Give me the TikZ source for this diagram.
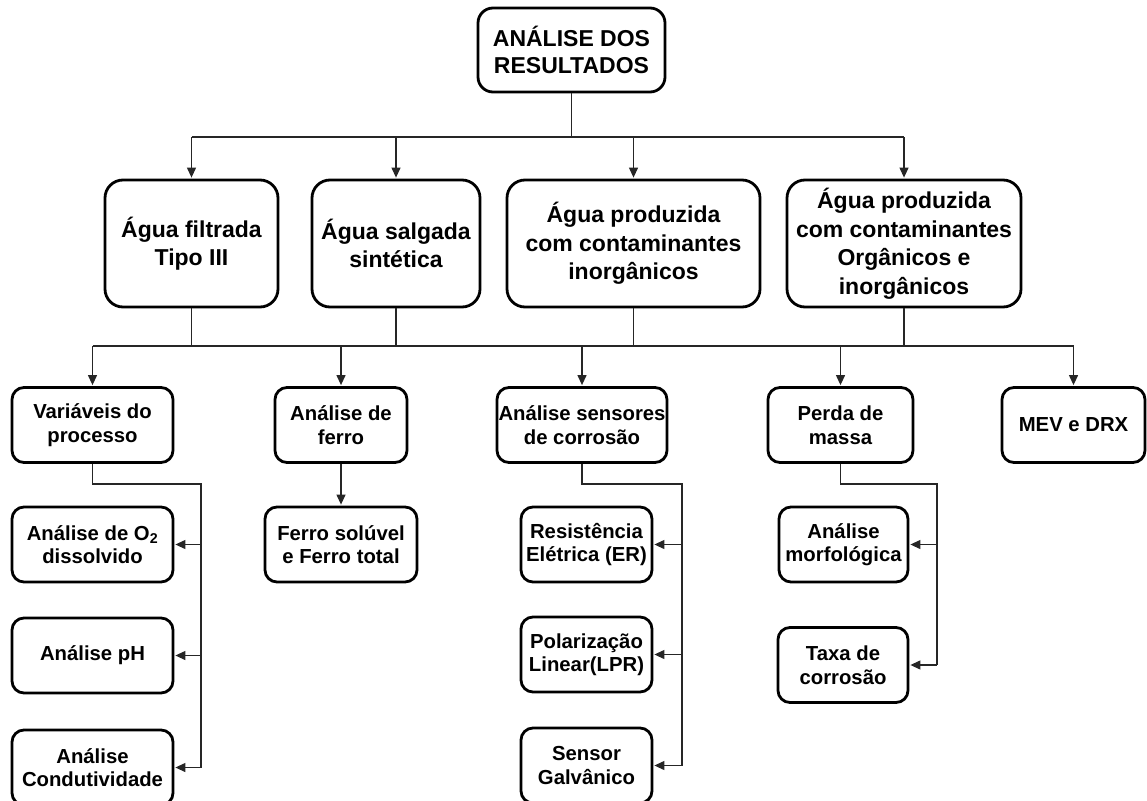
\documentclass[tikz,border=0pt]{standalone}
\usepackage{fontspec}
\setmainfont{Liberation Sans}
\usetikzlibrary{arrows.meta}

\tikzset{
  box/.style={draw=black, line width=2.8pt, fill=white, align=center, inner sep=0pt,
              font=\bfseries},
  topbox/.style={box, rounded corners=15pt, minimum width=187pt, minimum height=84pt,
                 font=\bfseries\fontsize{23}{27}\selectfont},
  bigbox/.style={box, rounded corners=18pt, minimum height=127pt,
                 font=\bfseries\fontsize{23}{28.5}\selectfont},
  smallbox/.style={box, rounded corners=12pt, minimum height=75pt,
                   font=\bfseries\fontsize{20.3}{23.5}\selectfont},
  conn/.style={draw=black!85, line width=1.2pt},
  arr/.style={conn, -{Triangle[length=10pt,width=9pt]}, shorten >=1pt},
}

\begin{document}
\begin{tikzpicture}[x=1pt,y=-1pt]
\useasboundingbox (0,0) rectangle (1147,800);
\clip (0,0) rectangle (1147,800);

% root
\node[topbox] (top) at (571.5,50) {ANÁLISE DOS\\RESULTADOS};

% water types
\node[bigbox, minimum width=173pt] (A) at (191.5,243.5) {Água filtrada\\Tipo III};
\node[bigbox, minimum width=168pt] (B) at (396,243.5) {Água salgada\\sintética};
\node[bigbox, minimum width=253pt] (C) at (633.5,243.5) {Água produzida\\com contaminantes\\inorgânicos};
\node[bigbox, minimum width=234pt] (D) at (904,243.5) {Água produzida\\com contaminantes\\Orgânicos e\\inorgânicos};

% analyses
\node[smallbox, minimum width=161pt] (V) at (92.5,425) {Variáveis do\\processo};
\node[smallbox, minimum width=132pt] (F) at (341,425) {Análise de\\ferro};
\node[smallbox, minimum width=170pt] (S) at (582,425) {Análise sensores\\de corrosão};
\node[smallbox, minimum width=145pt] (P) at (840.5,425) {Perda de\\massa};
\node[smallbox, minimum width=143pt] (M) at (1073.5,425) {MEV e DRX};

% details
\node[smallbox, minimum width=161pt] (O2) at (92.5,544.5) {Análise de O\textsubscript{2}\\dissolvido};
\node[smallbox, minimum width=161pt] (pH) at (92.5,655.5) {Análise pH};
\node[smallbox, minimum width=161pt] (Cd) at (92.5,767.5) {Análise\\Condutividade};
\node[smallbox, minimum width=152pt] (FS) at (341,544.5) {Ferro solúvel\\e Ferro total};
\node[smallbox, minimum width=131pt] (ER) at (586.5,544.5) {Resistência\\Elétrica (ER)};
\node[smallbox, minimum width=131pt] (LPR) at (586.5,654.5) {Polarização\\Linear(LPR)};
\node[smallbox, minimum width=131pt] (G) at (586.5,765.5) {Sensor\\Galvânico};
\node[smallbox, minimum width=129pt] (Mo) at (843.5,544.5) {Análise\\morfológica};
\node[smallbox, minimum width=130pt] (T) at (843,665) {Taxa de\\corrosão};

% bus lines and elbows
\coordinate (bus1) at (0,137);
\coordinate (bus2) at (0,346);
\coordinate (vV) at (201,484);
\coordinate (vS) at (682,484);
\coordinate (vP) at (937,484);

% root to water types
\draw[conn] (top.south) -- (top.south |- bus1);
\draw[conn] (A.north |- bus1) -- (D.north |- bus1);
\foreach \n in {A,B,C,D}
  \draw[arr] (\n.north |- bus1) -- (\n.north);

% water types to analyses
\foreach \n in {A,B,C,D}
  \draw[conn] (\n.south) -- (\n.south |- bus2);
\draw[conn] (V.north |- bus2) -- (M.north |- bus2);
\foreach \n in {V,F,S,P,M}
  \draw[arr] (\n.north |- bus2) -- (\n.north);

% process variables
\draw[conn] (V.south) |- (vV) -- (vV |- Cd.east);
\foreach \n in {O2,pH,Cd}
  \draw[arr] (vV |- \n.east) -- (\n.east);

% iron
\draw[arr] (F.south) -- (FS.north);

% corrosion sensors
\draw[conn] (S.south) |- (vS) -- (vS |- G.east);
\foreach \n in {ER,LPR,G}
  \draw[arr] (vS |- \n.east) -- (\n.east);

% mass loss
\draw[conn] (P.south) |- (vP) -- (vP |- T.east);
\foreach \n in {Mo,T}
  \draw[arr] (vP |- \n.east) -- (\n.east);
\end{tikzpicture}
\end{document}
